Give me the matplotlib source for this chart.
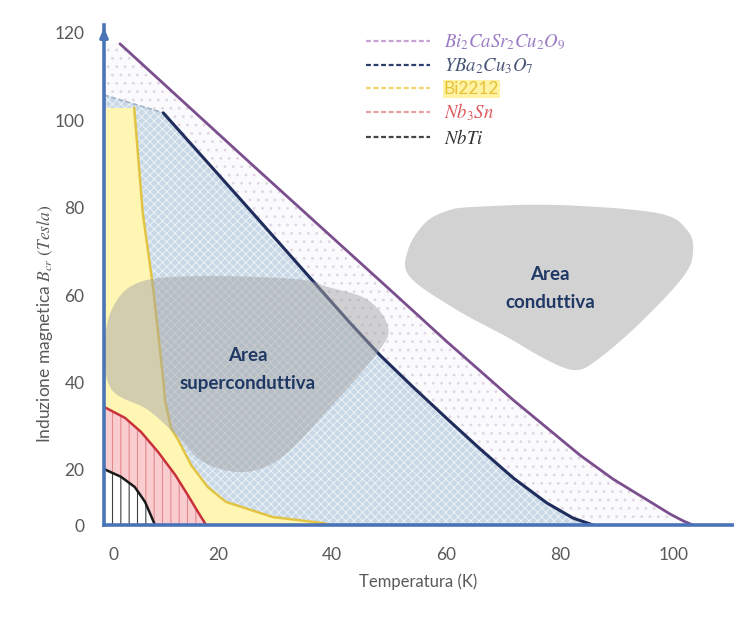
import numpy as np
import matplotlib
matplotlib.use('Agg')
import matplotlib.pyplot as plt
from matplotlib.patches import Polygon
from matplotlib.lines import Line2D
from matplotlib.transforms import ScaledTranslation

# ---------------- data ----------------
x_ticks = [0, 20, 40, 60, 80, 100]
y_ticks = [0, 20, 40, 60, 80, 100, 120]

bscco_T = [2.8, 25.6, 50.2, 60.2, 71.8, 83.5, 89.3, 95.3, 99.3, 101.6, 103.3]
bscco_B = [117.5, 90.3, 61.2, 49.3, 36.0, 23.4, 16.7, 9.1, 4.0, 1.5, 0.0]

ybco_T = [0.0, 10.4, 25.6, 43.2, 48.4, 54.2, 60.2, 66.0, 71.8, 77.7, 82.3, 85.8]
ybco_B = [105.8, 101.7, 79.5, 53.6, 46.3, 39.0, 31.7, 24.8, 17.1, 8.0, 2.5, 0.0]

bi2212_T = [0.0, 5.3, 6.8, 8.6, 9.5, 10.4, 10.7, 11.75, 13.0, 15.3, 18.2, 21.4, 29.6, 38.4, 39.6]
bi2212_B = [102.8, 102.8, 78.8, 61.9, 51.4, 40.6, 36.0, 29.6, 26.9, 21.1, 13.8, 8.4, 2.9, 0.7, 0.0]

nb3sn_T = [0.0, 0.35, 3.7, 6.5, 9.5, 12.5, 14.7, 16.5, 17.7, 17.9]
nb3sn_B = [34.3, 34.2, 31.9, 28.7, 24.1, 18.2, 10.9, 4.7, 0.7, 0.0]

nbti_T = [0.0, 0.35, 3.0, 5.4, 7.2, 8.2, 8.8, 9.0]
nbti_B = [20.3, 20.0, 17.5, 13.8, 8.4, 3.6, 0.7, 0.0]

labels = [r'$Bi_2CaSr_2Cu_2O_9$', r'$YBa_2Cu_3O_7$', 'Bi2212', r'$Nb_3Sn$', r'$NbTi$']

# ---------------- style ----------------
plt.rcParams['font.family'] = ['Lato', 'DejaVu Sans']
plt.rcParams['mathtext.fontset'] = 'stix'
plt.rcParams['hatch.linewidth'] = 0.8

W, H = 734, 620
fig = plt.figure(figsize=(W / 100, H / 100), dpi=100)
ax = fig.add_axes([104 / W, 1 - 525 / H, (W - 104) / W, 500 / H])


def fwd(b):
    b = np.asarray(b, dtype=float)
    return np.where(b < 20, b * 2.75, 55 + (b - 20) * 4.37)


def inv(p):
    p = np.asarray(p, dtype=float)
    return np.where(p < 55, p / 2.75, 20 + (p - 55) / 4.37)


ax.set_yscale('function', functions=(fwd, inv))
ax.set_xlim(0, (W - 104) / 5.7)
ax.set_ylim(0, 121.8)

# fills
bT = np.r_[0.0, bscco_T]
bB = np.r_[bscco_B[0], bscco_B]
ax.fill_between(bT, bB, 0, facecolor='#fbfafd', edgecolor='#e2d6e4', hatch='..', linewidth=0, zorder=1)
ax.fill_between(ybco_T, ybco_B, 0, facecolor='#c8d8e6', edgecolor='#e9f0f6', hatch='xxxx', linewidth=0, zorder=2)
ax.fill_between(bi2212_T, bi2212_B, 0, facecolor='#fff6b3', linewidth=0, zorder=3)
ax.fill_between(nb3sn_T, nb3sn_B, 0, facecolor='#f9cdd0', edgecolor='#e38a8f', hatch='||', linewidth=0, zorder=4)
ax.fill_between(nbti_T, nbti_B, 0, facecolor='#ffffff', edgecolor='#404040', hatch='||', linewidth=0, zorder=5)

# lines
ax.plot(bscco_T, bscco_B, color='#7b4f8e', lw=2.0, zorder=6, solid_capstyle='round', solid_joinstyle='round')
ax.plot(ybco_T[:2], ybco_B[:2], color='#9fb2c8', lw=1.2, ls=(0, (3, 1.5)), zorder=6)
ax.plot(ybco_T[1:], ybco_B[1:], color='#1f2d5c', lw=2.2, zorder=6, solid_capstyle='round', solid_joinstyle='round')
ax.plot(bi2212_T[1:], bi2212_B[1:], color='#e2c445', lw=1.8, zorder=6, solid_joinstyle='round')
ax.plot(nb3sn_T, nb3sn_B, color='#c8323a', lw=1.8, zorder=6, solid_joinstyle='round')
ax.plot(nbti_T, nbti_B, color='#1a1a1a', lw=1.8, zorder=6, solid_joinstyle='round')


# gray blobs (annotation shapes, figure pixel coords)
def closed_smooth(pts, n=24):
    pts = np.asarray(pts, dtype=float)
    N = len(pts)
    out = []
    t = np.linspace(0, 1, n, endpoint=False)[:, None]
    for i in range(N):
        p0, p1, p2, p3 = pts[(i - 1) % N], pts[i], pts[(i + 1) % N], pts[(i + 2) % N]
        out.append(0.5 * (2 * p1 + (-p0 + p2) * t + (2 * p0 - 5 * p1 + 4 * p2 - p3) * t ** 2
                          + (-p0 + 3 * p1 - 3 * p2 + p3) * t ** 3))
    out = np.vstack(out)
    return np.c_[out[:, 0] / W, 1 - out[:, 1] / H]


blob_sc = [(104, 350), (113, 307), (140, 282), (200, 276), (295, 279), (328, 287), (368, 300),
           (388, 327), (378, 352), (328, 410), (282, 457), (245, 472), (205, 463), (178, 437),
           (148, 410), (112, 390)]
blob_c = [(473, 207), (557, 205), (657, 213), (687, 230), (693, 252), (683, 277), (640, 323),
          (597, 360), (575, 370), (547, 360), (507, 337), (457, 310), (410, 277), (408, 250),
          (425, 223), (447, 211)]
for b in (blob_sc, blob_c):
    ax.add_patch(Polygon(closed_smooth(b), closed=True, transform=fig.transFigure,
                         facecolor='#a6a6a6', alpha=0.5, edgecolor='none', zorder=7, clip_on=False))

txt_kw = dict(color='#1f3864', fontsize=13.5, fontweight='bold', ha='center', va='center', zorder=8)
fig.text(248 / W, 1 - 355 / H, 'Area', **txt_kw)
fig.text(248 / W, 1 - 384 / H, 'superconduttiva', **txt_kw)
fig.text(550 / W, 1 - 274 / H, 'Area', **txt_kw)
fig.text(550 / W, 1 - 302 / H, 'conduttiva', **txt_kw)

# axes styling
axis_col = '#4a74b8'
for s in ('top', 'right'):
    ax.spines[s].set_visible(False)
for s in ('left', 'bottom'):
    ax.spines[s].set_color(axis_col)
    ax.spines[s].set_linewidth(2.6)
    ax.spines[s].set_zorder(9)
ax.annotate('', xy=(0, 1.0), xytext=(0, 0.97), xycoords='axes fraction',
            arrowprops=dict(arrowstyle='-|>,head_length=0.5,head_width=0.22', color=axis_col, lw=2.6),
            zorder=10, annotation_clip=False)

ax.set_xticks(x_ticks)
ax.set_yticks(y_ticks)
ax.set_xticklabels([str(v) for v in x_ticks])
ax.set_yticklabels([str(v) for v in y_ticks])
ax.minorticks_off()
ax.tick_params(length=0, labelsize=12.5, labelcolor='#595959', pad=14)
ax.tick_params(axis='x', pad=16)
lbl0 = ax.get_xticklabels()[0]
lbl0.set_transform(lbl0.get_transform() + ScaledTranslation(0.09, 0, fig.dpi_scale_trans))

fig.text(418 / W, 1 - 582 / H, 'Temperatura (K)', ha='center', va='center', fontsize=12, color='#595959')
fig.text(45 / W, 1 - 324 / H, r'Induzione magnetica $B_{cr}$ $(Tesla)$', ha='center', va='center',
         rotation=90, fontsize=12.5, color='#595959')

# legend
leg_line_cols = ['#c9a2d4', '#2e3f6e', '#f0d66a', '#e9a0a3', '#444444']
leg_text_cols = ['#9b7cc4', '#4a5878', '#e6c23a', '#df5a5e', '#333333']
handles = [Line2D([], [], color=c, lw=1.6, ls=(0, (2.2, 1.2))) for c in leg_line_cols]
leg = ax.legend(handles, labels, loc='upper left', bbox_to_anchor=(366 / W, 1 - 33 / H),
                bbox_transform=fig.transFigure, frameon=False, fontsize=13.5, handlelength=3.4,
                handletextpad=0.75, labelspacing=0.24, borderpad=0, borderaxespad=0)
leg.set_zorder(11)
for t, c in zip(leg.get_texts(), leg_text_cols):
    t.set_color(c)
tb = leg.get_texts()[2]
tb.set_fontsize(12.5)
tb.set_bbox(dict(facecolor='#fff3a3', edgecolor='none', pad=0.8))

fig.savefig('out.png', dpi=100)
